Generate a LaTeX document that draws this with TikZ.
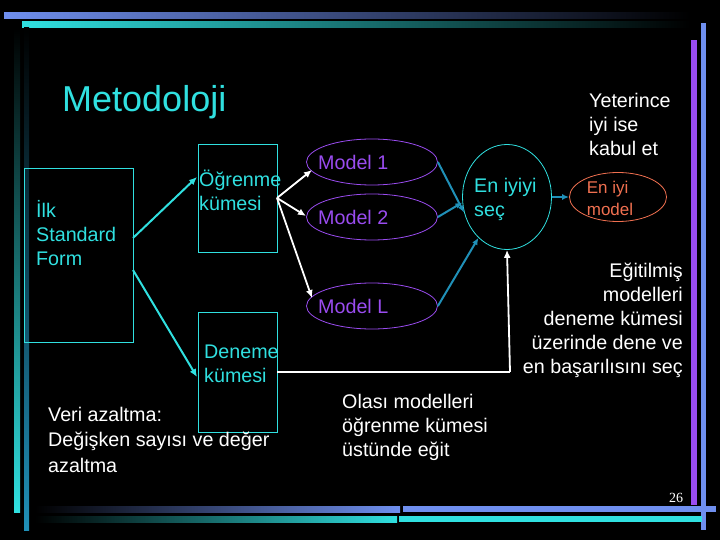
\documentclass[tikz,border=0pt]{standalone}
\usepackage{fontspec}
\setmainfont{Liberation Sans}
\usetikzlibrary{shapes.geometric,arrows.meta}
\definecolor{cy}{HTML}{30E0E0}
\definecolor{pu}{HTML}{9A4CF0}
\definecolor{sa}{HTML}{F07050}
\definecolor{tl}{HTML}{2090B8}
\definecolor{bl}{HTML}{6F8FEF}
\begin{document}
\begin{tikzpicture}[x=1pt,y=-1pt,
  txt/.style={font=\fontsize{19.7}{24}\selectfont,inner sep=0pt},
  box/.style={draw=cy,line width=0.8pt},
  mod/.style={draw=pu,ellipse,minimum width=131,minimum height=46,inner sep=0pt,line width=0.8pt},
  mtxt/.style={text=pu,font=\fontsize{19.7}{22}\selectfont,inner sep=0pt,anchor=west},
  wa/.style={white,line width=1.8pt,-{Latex[length=8,width=7]}},
  ca/.style={cy,line width=2pt,-{Latex[length=8,width=7]}},
  ta/.style={tl,line width=2pt,-{Latex[length=7,width=6]}}]
\useasboundingbox (0,0) rectangle (720,540);
\fill[black] (0,0) rectangle (720,540);
% frame bars
\shade[left color=bl,right color=black] (4,13) rectangle (690,19);
\shade[left color=cy,right color=black] (22,22) rectangle (690,28);
\shade[top color=black,bottom color=cy] (14,28) rectangle (20,512);
\shade[top color=black,bottom color=tl] (24,28) rectangle (29,530);
\fill[pu] (691,40) rectangle (697,505);
\fill[bl] (701,23) rectangle (706,530);
\shade[left color=black,right color=bl] (35,506) rectangle (400,512);
\fill[bl] (403,506) rectangle (716,512);
\shade[left color=black,right color=cy] (35,516) rectangle (397,522);
\fill[cy] (399,516) rectangle (702,522);
% title
\node[anchor=west,text=cy,font=\fontsize{36}{40}\selectfont,inner sep=0pt] (title) at (62,102) {Metodoloji};
% boxes
\draw[box] (24,168) rectangle (133,342);
\node[txt,text=cy,anchor=north west,align=left] (ilk) at (36,200) {İlk\\Standard\\Form};
\draw[box] (198,144) rectangle (277,252);
\node[txt,text=cy,anchor=north west,align=left] (ogr) at (199,170) {Öğrenme\\kümesi};
\draw[box] (198,312) rectangle (277,432);
\node[txt,text=cy,anchor=north west,align=left] (den) at (204,345) {Deneme\\kümesi};
\coordinate (ilkA) at (133,238); \coordinate (ilkB) at (133,270);
\coordinate (ogrL) at (197,177); \coordinate (denL) at (197,377);
\coordinate (ogrR) at (277,198); \coordinate (denR) at (277,372);
\draw[ca] (ilkA) -- (ogrL);
\draw[ca] (ilkB) -- (denL);
% models
\node[mod] (m1) at (372,162) {};
\node[mod] (m2) at (372,217) {};
\node[mod] (mL) at (372,306) {};
\node[mtxt] at (318,162) {Model 1};
\node[mtxt] at (318,217) {Model 2};
\node[mtxt] at (318,306) {Model L};
\draw[wa] (ogrR) -- (312,170);
\draw[wa] (ogrR) -- (306,216);
\draw[wa] (ogrR) -- (312,298);
\node[draw=cy,ellipse,minimum width=89,minimum height=105,inner sep=0pt,line width=0.8pt] (sel) at (507,197) {};
\node[txt,text=cy,anchor=north west,align=left] at (474,178) {En iyiyi\\seç};
\node[draw=sa,ellipse,minimum width=97,minimum height=49,inner sep=0pt,line width=0.8pt] (best) at (618,197) {};
\node[text=sa,align=left,font=\fontsize{17}{22}\selectfont,inner sep=0pt] at (610,198) {En iyi\\model};
\draw[ta] (m1.east) -- (sel.200);
\draw[ta] (m2.east) -- (sel.187);
\draw[ta] (mL.east) -- (sel.235);
\draw[ta] (sel.east) -- (best.west);
\draw[white,line width=1.2pt] (denR) -- (510,372);
\draw[white,line width=1.8pt,-{Latex[length=8,width=7]}] (510,372) -- (sel.south);
% texts
\node[txt,text=white,anchor=north west,align=left] (yet) at (589,93) {Yeterince\\iyi ise\\kabul et};
\node[txt,text=white,anchor=north east,align=right] (egit) at (683,263) {Eğitilmiş\\modelleri\\deneme kümesi\\üzerinde dene ve\\en başarılısını seç};
\node[txt,text=white,anchor=north west,align=left] (olasi) at (342,394) {Olası modelleri\\öğrenme kümesi\\üstünde eğit};
\node[txt,text=white,anchor=north west,align=left,font=\fontsize{19.7}{25.5}\selectfont] (veri) at (48,407) {Veri azaltma:\\Değişken sayısı ve değer\\azaltma};
\node[text=white,font=\fontspec{Liberation Serif}\fontsize{14}{15}\selectfont,inner sep=0pt] (num) at (676,498) {26};
\end{tikzpicture}
\end{document}
